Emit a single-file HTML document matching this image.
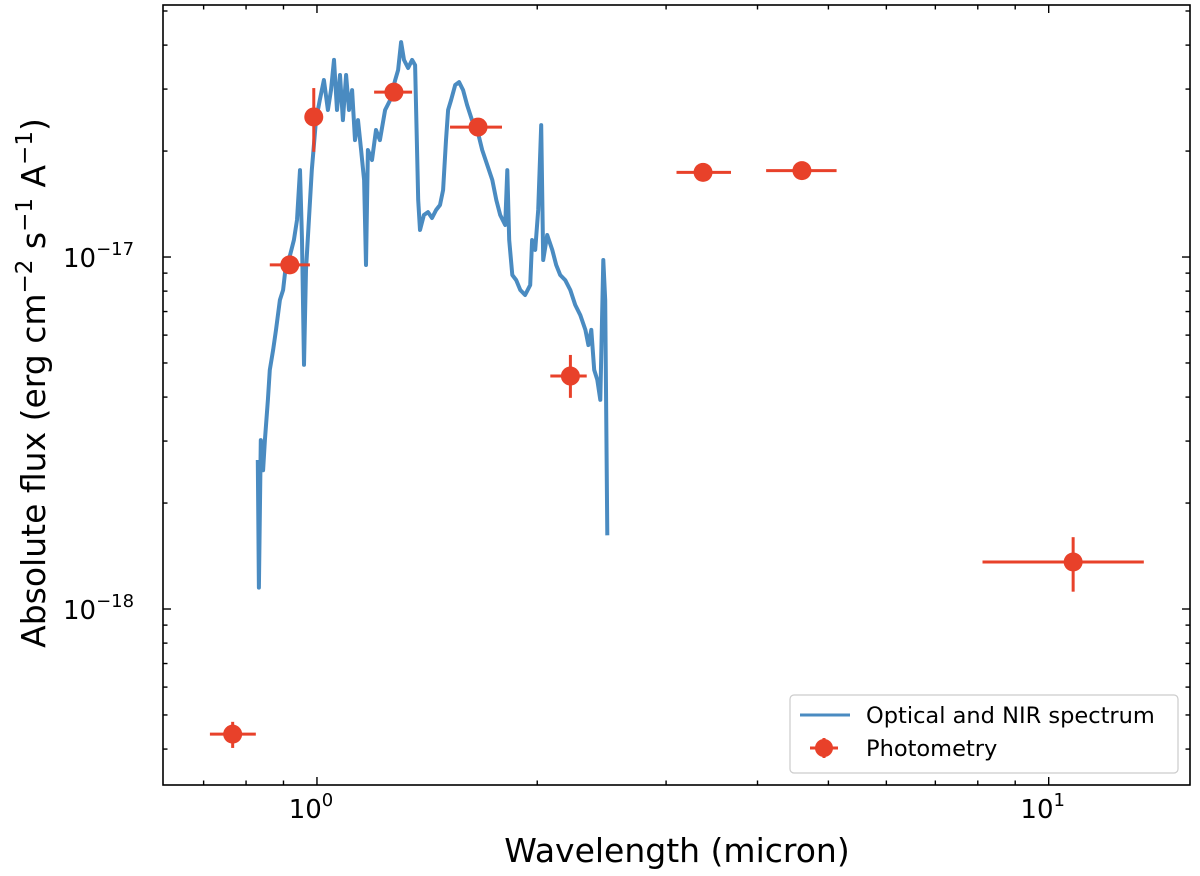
<!DOCTYPE html>
<html><head><meta charset="utf-8"><style>
html,body{margin:0;padding:0;background:#fff;}
svg{display:block;font-family:"DejaVu Sans","Liberation Sans",sans-serif;}
</style></head><body>
<svg id="chart" width="1200" height="876" viewBox="0 0 1200 876" xmlns="http://www.w3.org/2000/svg">
<g id="plot"></g>
<rect x="163" y="5" width="1027" height="780" fill="none" stroke="#000" stroke-width="1.6"/>
<g id="ticks"></g>
<text x="677" y="862" font-size="33" text-anchor="middle">Wavelength (micron)</text>
<text transform="translate(45,383) rotate(-90)" font-size="33" text-anchor="middle">Absolute flux (erg cm<tspan dy="-13" font-size="23">−2</tspan><tspan dy="13"> s</tspan><tspan dy="-13" font-size="23">−1</tspan><tspan dy="13"> A</tspan><tspan dy="-13" font-size="23">−1</tspan><tspan dy="13">)</tspan></text>
<g>
<rect x="790" y="695" width="388" height="78" rx="4" fill="#fff" stroke="#ccc" stroke-width="1.2"/>
<line x1="800" y1="715" x2="850" y2="715" stroke="#4a8bc1" stroke-width="3"/>
<text x="866" y="723" font-size="22.5">Optical and NIR spectrum</text>
<line x1="810" y1="748" x2="838" y2="748" stroke="#e8412a" stroke-width="3"/>
<line x1="824" y1="738" x2="824" y2="758" stroke="#e8412a" stroke-width="3"/>
<circle cx="824" cy="748" r="9" fill="#e8412a"/>
<text x="866" y="756" font-size="22.5">Photometry</text>
</g>
</svg>
<script>
// Spectrum: wavelength (micron) and flux (units of 1e-17 erg/cm2/s/A)
const specWave = [0.830,0.833,0.838,0.844,0.849,0.857,0.862,0.871,0.879,0.890,0.899,0.907,0.919,0.930,0.939,0.948,0.954,0.960,0.966,0.975,0.984,0.997,1.009,1.022,1.035,1.045,1.055,1.065,1.075,1.085,1.096,1.106,1.117,1.127,1.138,1.149,1.160,1.167,1.174,1.189,1.204,1.219,1.239,1.259,1.279,1.291,1.303,1.315,1.332,1.349,1.362,1.375,1.383,1.400,1.418,1.436,1.455,1.473,1.487,1.501,1.511,1.525,1.545,1.564,1.584,1.604,1.629,1.656,1.682,1.709,1.736,1.758,1.780,1.808,1.820,1.831,1.849,1.872,1.896,1.925,1.956,1.968,1.987,2.006,2.025,2.038,2.064,2.097,2.123,2.150,2.184,2.219,2.254,2.290,2.327,2.349,2.371,2.393,2.416,2.439,2.462,2.477,2.493];
const specFlux = [0.265,0.115,0.302,0.248,0.302,0.393,0.478,0.544,0.621,0.755,0.806,0.949,1.013,1.118,1.274,1.766,1.118,0.494,0.919,1.274,1.766,2.449,2.793,3.184,2.616,2.980,3.630,2.616,3.289,2.449,3.289,2.616,2.980,2.149,2.449,2.014,1.655,0.949,2.014,1.886,2.295,2.149,2.616,2.793,3.184,3.397,4.08,3.630,3.443,3.630,3.51,1.452,1.193,1.316,1.342,1.291,1.360,1.405,1.550,2.149,2.616,2.793,3.081,3.141,2.980,2.703,2.449,2.295,2.014,1.824,1.655,1.452,1.316,1.233,1.766,1.118,0.889,0.860,0.806,0.780,0.832,1.118,1.047,1.360,2.37,0.981,1.155,1.047,0.949,0.889,0.860,0.806,0.731,0.684,0.621,0.562,0.621,0.478,0.448,0.393,0.981,0.755,0.162];
// Photometry
const photWave = [0.767,0.918,0.99,1.274,1.66,2.22,3.37,4.6,10.8];
const photFlux = [0.0441,0.95,2.5,2.94,2.34,0.459,1.74,1.76,0.136];
const photWaveLo = [0.714,0.862,0.985,1.197,1.52,2.084,3.10,4.11,8.12];
const photWaveHi = [0.825,0.978,0.995,1.349,1.79,2.337,3.68,5.13,13.49];
const photFluxLo = [0.0403,0.95,1.99,2.94,2.34,0.398,1.68,1.68,0.112];
const photFluxHi = [0.0478,0.95,3.02,2.94,2.34,0.527,1.80,1.85,0.160];
const xTickLabels = ["10","10"];
const xTickExps = ["0","1"];
const yTickExps = ["−17","−18"];

const X0=163,X1=1190,Y0=5,Y1=785;
const xMin=Math.log10(0.616), xMax=Math.log10(15.6);
const yMin=-18.5, yMax=Math.log10(5.2e-17);
function sx(w){return X0+(Math.log10(w)-xMin)/(xMax-xMin)*(X1-X0);}
function syv(f){const l=Math.log10(f*1e-17);return Y1-(l-yMin)/(yMax-yMin)*(Y1-Y0);}
const NS="http://www.w3.org/2000/svg";
const plot=document.getElementById('plot'), ticks=document.getElementById('ticks');
function mk(tag,attrs,parent){const e=document.createElementNS(NS,tag);for(const k in attrs)e.setAttribute(k,attrs[k]);parent.appendChild(e);return e;}

let d='';
for(let i=0;i<specWave.length;i++){d+=(i?'L':'M')+sx(specWave[i]).toFixed(1)+','+syv(specFlux[i]).toFixed(1);}
const sp=mk('path',{d:d,fill:'none',stroke:'#4a8bc1','stroke-width':4,'stroke-linejoin':'round'},plot);



for(let i=0;i<photWave.length;i++){
  const g=mk('g',{},plot);
  
  
  const cx=sx(photWave[i]), cy=syv(photFlux[i]);
  mk('line',{x1:sx(photWaveLo[i]),x2:sx(photWaveHi[i]),y1:cy,y2:cy,stroke:'#e8412a','stroke-width':3},g);
  mk('line',{x1:cx,x2:cx,y1:syv(photFluxLo[i]),y2:syv(photFluxHi[i]),stroke:'#e8412a','stroke-width':3},g);
  mk('circle',{cx:cx,cy:cy,r:9.5,fill:'#e8412a'},g);
}

function tick(x1,y1,x2,y2){mk('line',{x1,y1,x2,y2,stroke:'#000','stroke-width':1.4},ticks);}
for(let dec=-1;dec<=1;dec++){
  for(let m=1;m<10;m++){
    const w=m*Math.pow(10,dec);
    if(w<0.616||w>15.6)continue;
    const x=sx(w), L=(m===1)?8:4.5;
    tick(x,Y1,x,Y1-L); tick(x,Y0,x,Y0+L);
  }
}
for(let dec=-19;dec<=-17;dec++){
  for(let m=1;m<10;m++){
    const f=m*Math.pow(10,dec+17);
    const y=syv(f);
    if(y<Y0||y>Y1)continue;
    const L=(m===1)?8:4.5;
    tick(X0,y,X0+L,y); tick(X1,y,X1-L,y);
  }
}
[1,10].forEach((w,i)=>{
  const t=mk('text',{x:sx(w)-6,y:818,'font-size':26,'text-anchor':'middle'},ticks);
  
  
  t.textContent=xTickLabels[i];
  const s=mk('tspan',{dy:-12,'font-size':18},t); s.textContent=xTickExps[i];
});
[1,0.1].forEach((f,i)=>{
  const t=mk('text',{x:63,y:syv(f)+10,'font-size':26},ticks);
  
  
  t.textContent='10';
  const s=mk('tspan',{dy:-12,'font-size':18},t); s.textContent=yTickExps[i];
});
</script>
</body></html>
